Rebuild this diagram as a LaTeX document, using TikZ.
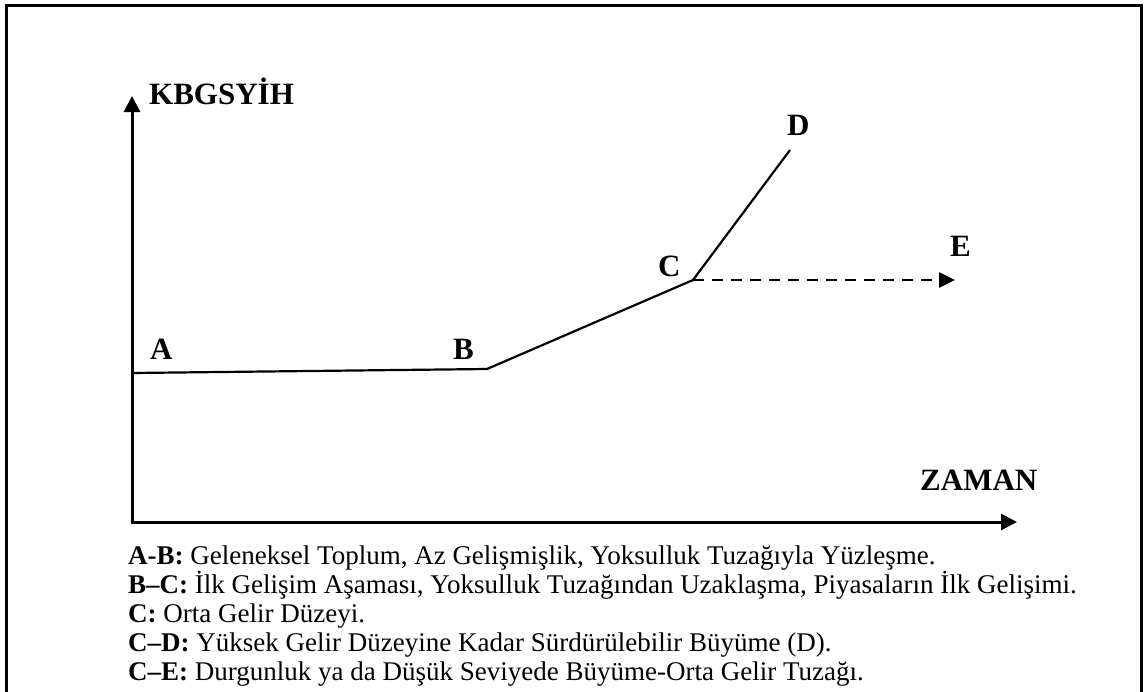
\documentclass[tikz,border=0pt]{standalone}
\usepackage{fontspec}
\setmainfont{Liberation Serif}
\usetikzlibrary{arrows.meta}
\begin{document}
\begin{tikzpicture}[x=1pt,y=-1pt,
  lbl/.style={anchor=base west,inner sep=0pt,font=\fontsize{31}{31}\selectfont\bfseries},
  legend/.style={anchor=base west,inner sep=0pt,font=\fontsize{27}{27}\selectfont},
  axis/.style={line width=3pt,-{Triangle[length=16pt,width=16pt]}},
  seg/.style={line width=2.2pt,line join=miter},
  dashseg/.style={line width=2.6pt,dash pattern=on 11pt off 8pt,-{Triangle[length=16pt,width=15pt]}}]
\useasboundingbox (0,0) rectangle (1147,691);
\fill[white] (0,0) rectangle (1147,691);
\clip (0,0) rectangle (1147,691);
\draw[line width=3pt] (6,5) rectangle (1141,730);
% axes
\coordinate (O) at (132,522);
\coordinate (Ytop) at (132,96);
\coordinate (Xend) at (1017,522);
\draw[axis] (O) -- (Ytop);
\draw[axis] ([xshift=-1.5pt]O) -- (Xend);
% curve points
\coordinate (A) at (132,373);
\coordinate (B) at (487,369);
\coordinate (C) at (693,280);
\coordinate (D) at (790,150);
\coordinate (E) at (955,280);
\draw[seg] (A) -- (B) -- (C) -- (D);
\draw[dashseg] (C) -- (E);
% labels
\node[lbl] (ylab) at (149,104) {KBGSYİH};
\node[lbl] (xlab) at (920,490) {ZAMAN};
\node[lbl] (la) at (150,359) {A};
\node[lbl] (lb) at (453,359) {B};
\node[lbl] (lc) at (658,276) {C};
\node[lbl] (ld) at (787,135) {D};
\node[lbl] (le) at (950,256) {E};
% legend
\node[legend] (t1) at (128,564) {\textbf{A-B:} Geleneksel Toplum, Az Gelişmişlik, Yoksulluk Tuzağıyla Yüzleşme.};
\node[legend] (t2) at (128,593) {\textbf{B–C:} İlk Gelişim Aşaması, Yoksulluk Tuzağından Uzaklaşma, Piyasaların İlk Gelişimi.};
\node[legend] (t3) at (128,622) {\textbf{C:} Orta Gelir Düzeyi.};
\node[legend] (t4) at (128,651) {\textbf{C–D:} Yüksek Gelir Düzeyine Kadar Sürdürülebilir Büyüme (D).};
\node[legend] (t5) at (128,680) {\textbf{C–E:} Durgunluk ya da Düşük Seviyede Büyüme-Orta Gelir Tuzağı.};
\end{tikzpicture}
\end{document}
